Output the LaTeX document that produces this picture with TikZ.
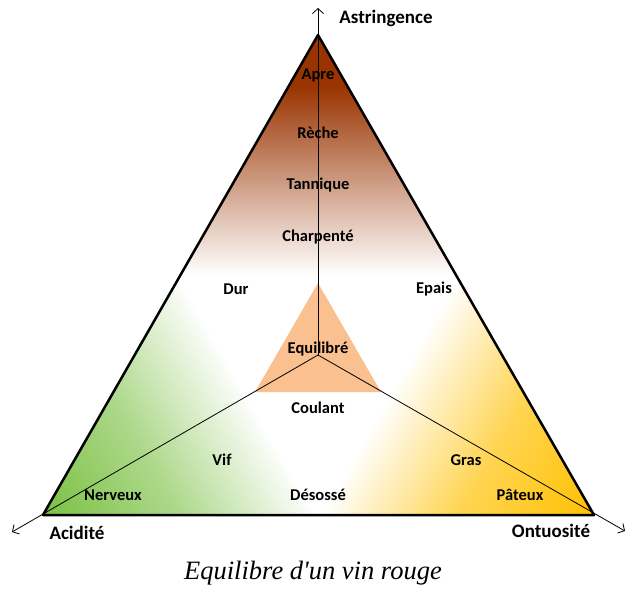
\documentclass[tikz,border=0pt]{standalone}
\usepackage{fontspec}
\setmainfont{Carlito}
\newfontfamily\legende{Liberation Serif}
\usetikzlibrary{arrows.meta}

\definecolor{tanin}{RGB}{153,51,0}
\definecolor{acide}{RGB}{122,192,66}
\definecolor{onctueux}{RGB}{255,192,0}
\definecolor{equi}{RGB}{250,192,144}

\begin{document}
\begin{tikzpicture}[x=1pt,y=-1pt,
    mot/.style={font=\bfseries\fontsize{16.5}{16.5}\selectfont},
    axe/.style={font=\bfseries\fontsize{19}{19}\selectfont},
    fleche/.style={-{Straight Barb[length=5pt,width=11pt]}, line width=0.8pt}]
    \useasboundingbox (0,0) rectangle (627,589);
    \coordinate (As) at (318,35);
    \coordinate (Ac) at (43,515);
    \coordinate (On) at (594,515);
    \coordinate (O) at (318,355);
    \coordinate (haut) at (318,8);
    \coordinate (gauche) at (12,532);
    \coordinate (droite) at (625,531);

    % zones
    \begin{scope}
        \clip (As) -- (Ac) -- (On) -- cycle;
        \fill[tanin] (0,30) rectangle (627,86);
        \shade[top color=tanin, bottom color=white] (0,85) rectangle (627,275);
    \end{scope}
    \begin{scope}
        \clip (Ac) -- (178,280) -- (312,515) -- cycle;
        \shade[transform canvas={rotate around={30:(Ac)}}, left color=acide, right color=white, middle color=acide!62]
            (Ac) ++(-2,-300) rectangle ++(240,600);
    \end{scope}
    \begin{scope}
        \clip (On) -- (458,280) -- (324,515) -- cycle;
        \shade[transform canvas={rotate around={-30:(On)}}, left color=white, right color=onctueux, middle color=onctueux!68]
            (On) ++(-238,-300) rectangle ++(240,600);
    \end{scope}
    \fill[equi] (318,283) -- (255,392) -- (381,392) -- cycle;

    % axes
    \draw[fleche] (O) -- (haut);
    \draw[fleche] (O) -- (gauche);
    \draw[fleche] (O) -- (droite);
    \draw[line width=2.5pt, line join=round] (As) -- (Ac) -- (On) -- cycle;

    \node[axe] (astr) at (386,18) {Astringence};
    \node[axe] (acid) at (77,533) {Acidité};
    \node[axe] (ontu) at (551,531) {Ontuosité};

    \node[mot] (apre) at (318,75) {Apre};
    \node[mot] (reche) at (318,133) {Rèche};
    \node[mot] (tann) at (318,185) {Tannique};
    \node[mot] (charp) at (318,237) {Charpenté};
    \node[mot] (dur) at (236,289) {Dur};
    \node[mot] (epais) at (434,289) {Epais};
    \node[mot] (equil) at (318,349) {Equilibré};
    \node[mot] (coul) at (318,408) {Coulant};
    \node[mot] (vif) at (222,460) {Vif};
    \node[mot] (gras) at (466,460) {Gras};
    \node[mot] (nerv) at (113,495) {Nerveux};
    \node[mot] (deso) at (318,495) {Désossé};
    \node[mot] (pate) at (520,495) {Pâteux};

    \node[font=\legende\itshape\fontsize{26.5}{26.5}\selectfont] (titre) at (313,573) {Equilibre d'un vin rouge};
\end{tikzpicture}
\end{document}
